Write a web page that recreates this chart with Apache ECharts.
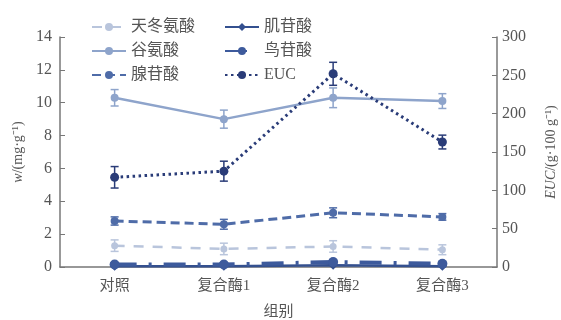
<!DOCTYPE html>
<html>
<head>
<meta charset="utf-8">
<script src="https://cdn.jsdelivr.net/npm/echarts@6/dist/echarts.min.js"></script>
<style>
html, body { margin: 0; padding: 0; background: #fff; }
#chart { width: 561px; height: 320px; }
</style>
</head>
<body>
<div id="chart"></div>
<script>
// 组别
const groups = ['对照', '复合酶1', '复合酶2', '复合酶3'];

// 各指标含量 (mg/g) 及误差
const asp = [1.3, 1.1, 1.25, 1.05];
const aspErr = [0.35, 0.35, 0.35, 0.3];
const glu = [10.3, 9.0, 10.3, 10.1];
const gluErr = [0.5, 0.55, 0.6, 0.45];
const amp = [2.8, 2.6, 3.3, 3.05];
const ampErr = [0.25, 0.3, 0.3, 0.2];
const imp = [0.05, 0.05, 0.1, 0.05];
const gmp = [0.15, 0.15, 0.3, 0.2];
const gmpErr = [0.1, 0.1, 0.15, 0.1];
// EUC (g/100g)
const euc = [117, 125, 252, 163];
const eucErr = [14, 13, 15, 9];

const textColor = '#555';
const fontFam = "'Liberation Serif', 'Noto Sans CJK SC', serif";

function errorSeries(name, vals, errs, color, yIdx) {
    return {
        name: name,
        type: 'custom',
        yAxisIndex: yIdx || 0,
        z: 1,
        silent: true,
        data: vals.map((v, i) => [i, v - errs[i], v + errs[i]]),
        renderItem: function (params, api) {
            const lo = api.coord([api.value(0), api.value(1)]);
            const hi = api.coord([api.value(0), api.value(2)]);
            const w = 4;
            const style = { stroke: color, lineWidth: 1.5 };
            return {
                type: 'group',
                children: [
                    { type: 'line', shape: { x1: lo[0], y1: lo[1], x2: hi[0], y2: hi[1] }, style: style },
                    { type: 'line', shape: { x1: lo[0] - w, y1: lo[1], x2: lo[0] + w, y2: lo[1] }, style: style },
                    { type: 'line', shape: { x1: hi[0] - w, y1: hi[1], x2: hi[0] + w, y2: hi[1] }, style: style }
                ]
            };
        }
    };
}

const chart = echarts.init(document.getElementById('chart'));

const c = {
    asp: '#b9c5dc',
    glu: '#8ea4cb',
    amp: '#4f6ca8',
    imp: '#34508f',
    gmp: '#3d5a9c',
    euc: '#2a3c78'
};

const legendText = { color: textColor, fontSize: 16, fontFamily: fontFam };

chart.setOption({
    animation: false,
    textStyle: { fontFamily: fontFam },
    grid: { left: 60, right: 64, top: 37, bottom: 53, containLabel: false, outerBoundsMode: 'none' },
    legend: [
        {
            data: ['天冬氨酸', '谷氨酸', '腺苷酸'],
            orient: 'vertical',
            left: 86, top: 14,
            itemWidth: 34, itemHeight: 10, itemGap: 8,
            textStyle: legendText
        },
        {
            data: ['肌苷酸', '鸟苷酸', 'EUC'],
            orient: 'vertical',
            left: 219, top: 14,
            itemWidth: 34, itemHeight: 10, itemGap: 8,
            textStyle: legendText
        }
    ],
    xAxis: {
        type: 'category',
        data: groups,
        name: '组别',
        nameLocation: 'middle',
        nameGap: 38,
        nameTextStyle: { color: textColor, fontSize: 15 },
        axisLine: { lineStyle: { color: '#777', width: 1.5 } },
        axisTick: { show: false },
        axisLabel: { color: textColor, fontSize: 15, margin: 12 }
    },
    yAxis: [
        {
            type: 'value',
            min: 0, max: 14, interval: 2,
            name: '{i|w}/(mg·g⁻¹)',
            nameLocation: 'middle',
            nameGap: 34,
            nameRotate: 90,
            nameTextStyle: {
                color: textColor, fontSize: 14,
                rich: { i: { fontStyle: 'italic', fontSize: 14, color: textColor } }
            },
            axisLine: { show: true, lineStyle: { color: '#777', width: 1.5 } },
            axisTick: { show: true, inside: true, length: 5, lineStyle: { color: '#777' } },
            axisLabel: { color: textColor, fontSize: 16, margin: 8 },
            splitLine: { show: false }
        },
        {
            type: 'value',
            min: 0, max: 300, interval: 50,
            position: 'right',
            name: '{i|EUC}/(g·100 g⁻¹)',
            nameLocation: 'middle',
            nameGap: 47,
            nameRotate: 90,
            nameTextStyle: {
                color: textColor, fontSize: 14,
                rich: { i: { fontStyle: 'italic', fontSize: 14, color: textColor } }
            },
            axisLine: { show: true, lineStyle: { color: '#777', width: 1.5 } },
            axisTick: { show: true, inside: true, length: 5, lineStyle: { color: '#777' } },
            axisLabel: { color: textColor, fontSize: 16, margin: 5 },
            splitLine: { show: false }
        }
    ],
    series: [
        {
            name: '天冬氨酸', type: 'line', data: asp,
            symbol: 'circle', symbolSize: 7,
            itemStyle: { color: c.asp },
            lineStyle: { color: c.asp, width: 2.5, type: [10, 9] }
        },
        {
            name: '谷氨酸', type: 'line', data: glu,
            symbol: 'circle', symbolSize: 8,
            itemStyle: { color: c.glu },
            lineStyle: { color: c.glu, width: 2.5 }
        },
        {
            name: '腺苷酸', type: 'line', data: amp,
            symbol: 'circle', symbolSize: 8,
            itemStyle: { color: c.amp },
            lineStyle: { color: c.amp, width: 3, type: [9, 5] }
        },
        {
            name: '肌苷酸', type: 'line', data: imp,
            symbol: 'diamond', symbolSize: 9,
            itemStyle: { color: c.imp },
            lineStyle: { color: c.imp, width: 2.5 }
        },
        {
            name: '鸟苷酸', type: 'line', data: gmp,
            symbol: 'circle', symbolSize: 10,
            itemStyle: { color: c.gmp },
            lineStyle: { color: c.gmp, width: 4, type: [22, 12, 3, 12] }
        },
        {
            name: 'EUC', type: 'line', data: euc, yAxisIndex: 1,
            symbol: 'circle', symbolSize: 9,
            itemStyle: { color: c.euc },
            lineStyle: { color: c.euc, width: 3, type: [2.5, 3.5] }
        },
        errorSeries('天冬氨酸', asp, aspErr, c.asp),
        errorSeries('谷氨酸', glu, gluErr, c.glu),
        errorSeries('腺苷酸', amp, ampErr, c.amp),
        errorSeries('鸟苷酸', gmp, gmpErr, c.gmp),
        errorSeries('EUC', euc, eucErr, c.euc, 1)
    ]
});
</script>
</body>
</html>
